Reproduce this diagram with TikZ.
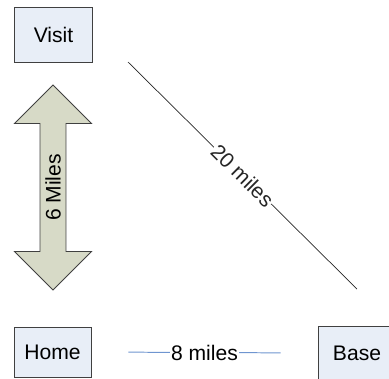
\documentclass[tikz,border=0pt]{standalone}
\usepackage{fontspec}
\setmainfont{Liberation Sans}
\usetikzlibrary{shapes.arrows}
\definecolor{boxfill}{HTML}{E8EEF7}
\definecolor{boxline}{HTML}{404040}
\definecolor{arrowfill}{HTML}{D7DAC7}
\definecolor{roadblue}{HTML}{6F95D0}

\tikzset{
	place/.style={draw=boxline,
		fill=boxfill,
		line width=0.6pt,
		minimum width=1.95cm,
		minimum height=1.3cm,
		font=\fontsize{15}{18}\selectfont},
	dist/.style={fill=white,
		inner sep=0.5pt,
		font=\fontsize{15}{18}\selectfont}
}

\begin{document}
\begin{tikzpicture}[x=0.025cm,y=-0.025cm]
		\useasboundingbox (0,0) rectangle (389,378);
		% places
		\node[place,minimum height=1.375cm] (visit) at (53.5,34.5) {Visit};
		\node[place,minimum width=1.925cm,minimum height=1.25cm] (home) at (52.5,352) {Home};
		\node[place,minimum height=1.35cm] (base) at (357,353) {Base};

		% 6 miles arrow
		\node[double arrow,
		draw=boxline,
		fill=arrowfill,
		line width=0.6pt,
		rotate=90,
		minimum height=5.125cm,
		double arrow head extend=0.64cm,
		text height=11pt,
		text depth=0pt,
		inner ysep=3.4pt,
		font=\fontsize{15}{18}\selectfont
		] (six) at (53,187.5) {6 Miles};

		% 20 miles line
		\coordinate (d1) at (128,62);
		\coordinate (d2) at (357,289);
		\draw[black!85,line width=0.5pt] (d1) -- (d2)
		node[midway,sloped,dist]{20 miles};

		% 8 miles line
		\draw[roadblue,line width=0.7pt,
		shorten <=0.925cm,
		shorten >=0.925cm] (home.east) -- (base.west)
		node[midway,dist,text=black]{8 miles};
\end{tikzpicture}
\end{document}
